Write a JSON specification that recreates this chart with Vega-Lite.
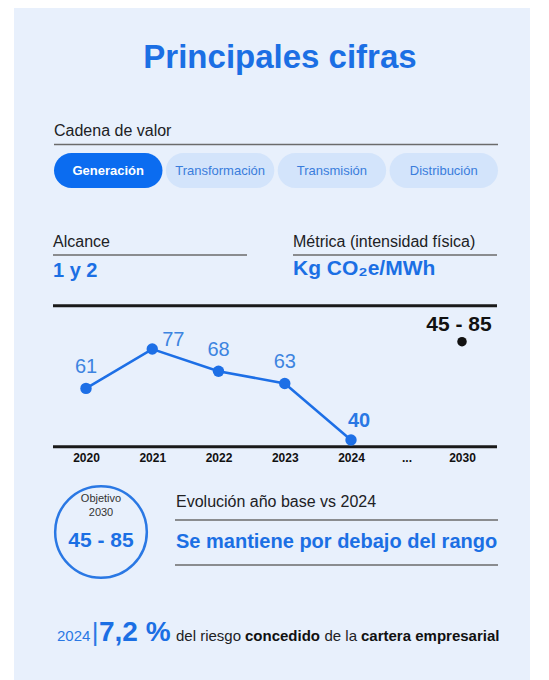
{
  "$schema": "https://vega.github.io/schema/vega-lite/v6.json",
  "width": 549,
  "height": 680,
  "autosize": {"type": "fit", "contains": "padding"},
  "padding": {"left": 14, "top": 8, "right": 19, "bottom": 0},
  "background": "#ffffff",
  "config": {
    "view": {"stroke": null, "fill": "#e8f0fc"},
    "font": "Liberation Sans",
    "text": {"font": "Liberation Sans"}
  },
  "datasets": {
    "serie": [
      {"anio": 2020, "valor": 61, "etiqueta": "61", "tipo": "Real"},
      {"anio": 2021, "valor": 77, "etiqueta": "77", "tipo": "Real"},
      {"anio": 2022, "valor": 68, "etiqueta": "68", "tipo": "Real"},
      {"anio": 2023, "valor": 63, "etiqueta": "63", "tipo": "Real"},
      {"anio": 2024, "valor": 40, "etiqueta": "40", "tipo": "Real"},
      {"anio": 2030, "valor": 80, "etiqueta": "45 - 85", "tipo": "Objetivo"}
    ],
    "cadena": [
      {"etapa": "Generación", "estado": "Activa"},
      {"etapa": "Transformación", "estado": "Inactiva"},
      {"etapa": "Transmisión", "estado": "Inactiva"},
      {"etapa": "Distribución", "estado": "Inactiva"}
    ],
    "textos": [
      {"clave": "titulo", "texto": "Principales cifras"},
      {"clave": "cadena", "texto": "Cadena de valor"},
      {"clave": "alcance", "texto": "Alcance"},
      {"clave": "alcance_valor", "texto": "1 y 2"},
      {"clave": "metrica", "texto": "Métrica (intensidad física)"},
      {"clave": "metrica_valor", "texto": "Kg CO₂e/MWh"},
      {"clave": "objetivo", "texto": "Objetivo"},
      {"clave": "objetivo_anio", "texto": "2030"},
      {"clave": "objetivo_rango", "texto": "45 - 85"},
      {"clave": "evolucion", "texto": "Evolución año base vs 2024"},
      {"clave": "evolucion_valor", "texto": "Se mantiene por debajo del rango"},
      {"clave": "pie_anio", "texto": "2024"},
      {"clave": "pie_barra", "texto": "|"},
      {"clave": "pie_pct", "texto": "7,2 %"},
      {"clave": "pie_1", "texto": "del riesgo"},
      {"clave": "pie_2", "texto": "concedido"},
      {"clave": "pie_3", "texto": "de la"},
      {"clave": "pie_4", "texto": "cartera empresarial"}
    ]
  },
  "layer": [
    {
      "data": {"name": "textos"},
      "transform": [{"filter": "datum.clave == 'titulo'"}],
      "mark": {"type": "text", "x": 266, "y": 60, "align": "center", "baseline": "alphabetic", "fontSize": 33, "fontWeight": "bold", "color": "#1b6fe4"},
      "encoding": {"text": {"field": "texto"}}
    },
    {
      "data": {"name": "textos"},
      "transform": [{"filter": "datum.clave == 'cadena'"}],
      "mark": {"type": "text", "x": 40, "y": 128, "align": "left", "baseline": "alphabetic", "fontSize": 16, "color": "#202124"},
      "encoding": {"text": {"field": "texto"}}
    },
    {
      "data": {"values": [{"elemento": "separador"}]},
      "mark": {"type": "rule", "stroke": "#6b6b6b", "strokeWidth": 1.5},
      "encoding": {"x": {"value": 40}, "x2": {"value": 484}, "y": {"value": 136.5}}
    },
    {
      "data": {"name": "cadena"},
      "encoding": {
        "x": {
          "field": "etapa", "type": "nominal", "sort": null,
          "scale": {"domain": ["Generación", "Transformación", "Transmisión", "Distribución"], "range": [40, 484], "paddingInner": 0.03, "paddingOuter": 0},
          "axis": null
        }
      },
      "layer": [
        {
          "mark": {"type": "bar", "y": 145, "y2": 180, "cornerRadius": 17.5},
          "encoding": {
            "color": {"field": "estado", "type": "nominal", "scale": {"domain": ["Activa", "Inactiva"], "range": ["#0b6cf0", "#d3e4fb"]}, "legend": null}
          }
        },
        {
          "transform": [{"filter": "datum.estado == 'Activa'"}],
          "mark": {"type": "text", "y": 162.5, "baseline": "middle", "align": "center", "fontSize": 13, "fontWeight": "bold", "color": "#ffffff"},
          "encoding": {"text": {"field": "etapa"}}
        },
        {
          "transform": [{"filter": "datum.estado == 'Inactiva'"}],
          "mark": {"type": "text", "y": 162.5, "baseline": "middle", "align": "center", "fontSize": 13, "color": "#3a7ddc"},
          "encoding": {"text": {"field": "etapa"}}
        }
      ]
    },
    {
      "data": {"name": "textos"},
      "transform": [{"filter": "datum.clave == 'alcance'"}],
      "mark": {"type": "text", "x": 39, "y": 238.5, "align": "left", "baseline": "alphabetic", "fontSize": 16, "color": "#202124"},
      "encoding": {"text": {"field": "texto"}}
    },
    {
      "data": {"values": [{"elemento": "separador"}]},
      "mark": {"type": "rule", "stroke": "#6b6b6b", "strokeWidth": 1.5},
      "encoding": {"x": {"value": 39}, "x2": {"value": 233}, "y": {"value": 247}}
    },
    {
      "data": {"name": "textos"},
      "transform": [{"filter": "datum.clave == 'alcance_valor'"}],
      "mark": {"type": "text", "x": 39, "y": 268.5, "align": "left", "baseline": "alphabetic", "fontSize": 20, "fontWeight": "bold", "color": "#1b6fe4"},
      "encoding": {"text": {"field": "texto"}}
    },
    {
      "data": {"name": "textos"},
      "transform": [{"filter": "datum.clave == 'metrica'"}],
      "mark": {"type": "text", "x": 279, "y": 238.5, "align": "left", "baseline": "alphabetic", "fontSize": 16, "color": "#202124"},
      "encoding": {"text": {"field": "texto"}}
    },
    {
      "data": {"values": [{"elemento": "separador"}]},
      "mark": {"type": "rule", "stroke": "#6b6b6b", "strokeWidth": 1.5},
      "encoding": {"x": {"value": 279}, "x2": {"value": 483}, "y": {"value": 247}}
    },
    {
      "data": {"name": "textos"},
      "transform": [{"filter": "datum.clave == 'metrica_valor'"}],
      "mark": {"type": "text", "x": 279, "y": 267, "align": "left", "baseline": "alphabetic", "fontSize": 21, "fontWeight": "bold", "color": "#1b6fe4"},
      "encoding": {"text": {"field": "texto"}}
    },
    {
      "data": {"values": [{"elemento": "separador"}]},
      "mark": {"type": "rule", "stroke": "#1a1a1a", "strokeWidth": 3},
      "encoding": {"x": {"value": 39}, "x2": {"value": 483}, "y": {"value": 297.7}}
    },
    {
      "data": {"values": [{"elemento": "separador"}]},
      "mark": {"type": "rule", "stroke": "#1a1a1a", "strokeWidth": 3},
      "encoding": {"x": {"value": 39}, "x2": {"value": 483}, "y": {"value": 438.7}}
    },
    {
      "data": {"name": "serie"},
      "layer": [
        {
          "transform": [{"filter": "datum.tipo == 'Real'"}],
          "mark": {"type": "line", "color": "#1d6fe6", "strokeWidth": 2.5},
          "encoding": {
            "x": {
              "field": "anio", "type": "quantitative",
              "scale": {"domain": [2020, 2024, 2030], "range": [72, 337, 448], "zero": false, "nice": false},
              "axis": {
                "orient": "bottom", "offset": -233.3,
                "values": [2020, 2021, 2022, 2023, 2024, 2027, 2030],
                "labelExpr": "datum.value == 2027 ? '...' : format(datum.value, 'd')",
                "domain": false, "ticks": false, "tickSize": 0, "grid": false,
                "labelPadding": 6, "labelFontSize": 12, "labelFontWeight": "bold",
                "labelColor": "#111111", "labelBaseline": "top", "labelFlush": false,
                "labelOverlap": false, "title": null
              }
            },
            "y": {
              "field": "valor", "type": "quantitative",
              "scale": {"domain": [40, 80], "range": [432.0, 333.7], "zero": false, "nice": false},
              "axis": null
            }
          }
        },
        {
          "mark": {"type": "point", "filled": true, "opacity": 1},
          "encoding": {
            "x": {"field": "anio", "type": "quantitative"},
            "y": {"field": "valor", "type": "quantitative"},
            "color": {"field": "tipo", "type": "nominal", "scale": {"domain": ["Real", "Objetivo"], "range": ["#1d6fe6", "#111111"]}, "legend": null},
            "size": {"field": "tipo", "type": "nominal", "scale": {"domain": ["Real", "Objetivo"], "range": [130, 90]}, "legend": null}
          }
        },
        {
          "transform": [{"filter": "datum.anio == 2020 || datum.anio == 2022 || datum.anio == 2023"}],
          "mark": {"type": "text", "align": "center", "baseline": "alphabetic", "dy": -15, "fontSize": 20, "color": "#3d84e0"},
          "encoding": {
            "x": {"field": "anio", "type": "quantitative"},
            "y": {"field": "valor", "type": "quantitative"},
            "text": {"field": "etiqueta"}
          }
        },
        {
          "transform": [{"filter": "datum.anio == 2021"}],
          "mark": {"type": "text", "align": "left", "baseline": "alphabetic", "dx": 10, "dy": -3, "fontSize": 20, "color": "#3d84e0"},
          "encoding": {
            "x": {"field": "anio", "type": "quantitative"},
            "y": {"field": "valor", "type": "quantitative"},
            "text": {"field": "etiqueta"}
          }
        },
        {
          "transform": [{"filter": "datum.anio == 2024"}],
          "mark": {"type": "text", "align": "center", "baseline": "alphabetic", "dx": 8, "dy": -13, "fontSize": 20, "fontWeight": "bold", "color": "#2a78e4"},
          "encoding": {
            "x": {"field": "anio", "type": "quantitative"},
            "y": {"field": "valor", "type": "quantitative"},
            "text": {"field": "etiqueta"}
          }
        },
        {
          "transform": [{"filter": "datum.tipo == 'Objetivo'"}],
          "mark": {"type": "text", "align": "center", "baseline": "alphabetic", "dx": -3, "dy": -11, "fontSize": 21, "fontWeight": "bold", "color": "#111111"},
          "encoding": {
            "x": {"field": "anio", "type": "quantitative"},
            "y": {"field": "valor", "type": "quantitative"},
            "text": {"field": "etiqueta"}
          }
        }
      ]
    },
    {
      "data": {"name": "textos"},
      "transform": [{"filter": "datum.clave == 'objetivo_rango'"}],
      "mark": {"type": "point", "x": 87, "y": 524, "size": 8400, "filled": false, "stroke": "#2a78e4", "strokeWidth": 2.5, "opacity": 1},
      "encoding": {}
    },
    {
      "data": {"name": "textos"},
      "transform": [{"filter": "datum.clave == 'objetivo'"}],
      "mark": {"type": "text", "x": 87, "y": 494, "align": "center", "baseline": "alphabetic", "fontSize": 11, "color": "#333333"},
      "encoding": {"text": {"field": "texto"}}
    },
    {
      "data": {"name": "textos"},
      "transform": [{"filter": "datum.clave == 'objetivo_anio'"}],
      "mark": {"type": "text", "x": 87, "y": 508, "align": "center", "baseline": "alphabetic", "fontSize": 11, "color": "#333333"},
      "encoding": {"text": {"field": "texto"}}
    },
    {
      "data": {"name": "textos"},
      "transform": [{"filter": "datum.clave == 'objetivo_rango'"}],
      "mark": {"type": "text", "x": 87, "y": 538.5, "align": "center", "baseline": "alphabetic", "fontSize": 21, "fontWeight": "bold", "color": "#1b6fe4"},
      "encoding": {"text": {"field": "texto"}}
    },
    {
      "data": {"name": "textos"},
      "transform": [{"filter": "datum.clave == 'evolucion'"}],
      "mark": {"type": "text", "x": 162, "y": 498.5, "align": "left", "baseline": "alphabetic", "fontSize": 16, "color": "#202124"},
      "encoding": {"text": {"field": "texto"}}
    },
    {
      "data": {"values": [{"elemento": "separador"}]},
      "mark": {"type": "rule", "stroke": "#6b6b6b", "strokeWidth": 1.5},
      "encoding": {"x": {"value": 161}, "x2": {"value": 484}, "y": {"value": 512}}
    },
    {
      "data": {"name": "textos"},
      "transform": [{"filter": "datum.clave == 'evolucion_valor'"}],
      "mark": {"type": "text", "x": 162, "y": 540, "align": "left", "baseline": "alphabetic", "fontSize": 20, "fontWeight": "bold", "color": "#1b6fe4"},
      "encoding": {"text": {"field": "texto"}}
    },
    {
      "data": {"values": [{"elemento": "separador"}]},
      "mark": {"type": "rule", "stroke": "#6b6b6b", "strokeWidth": 1.5},
      "encoding": {"x": {"value": 161}, "x2": {"value": 484}, "y": {"value": 557}}
    },
    {
      "data": {"name": "textos"},
      "transform": [{"filter": "datum.clave == 'pie_anio'"}],
      "mark": {"type": "text", "x": 43, "y": 633, "align": "left", "baseline": "alphabetic", "fontSize": 15, "color": "#2a78e4"},
      "encoding": {"text": {"field": "texto"}}
    },
    {
      "data": {"name": "textos"},
      "transform": [{"filter": "datum.clave == 'pie_barra'"}],
      "mark": {"type": "text", "x": 81, "y": 633, "align": "center", "baseline": "alphabetic", "fontSize": 26, "color": "#2a78e4"},
      "encoding": {"text": {"field": "texto"}}
    },
    {
      "data": {"name": "textos"},
      "transform": [{"filter": "datum.clave == 'pie_pct'"}],
      "mark": {"type": "text", "x": 85, "y": 633, "align": "left", "baseline": "alphabetic", "fontSize": 28, "fontWeight": "bold", "color": "#1b6fe4"},
      "encoding": {"text": {"field": "texto"}}
    },
    {
      "data": {"name": "textos"},
      "transform": [{"filter": "datum.clave == 'pie_1'"}],
      "mark": {"type": "text", "x": 162, "y": 633, "align": "left", "baseline": "alphabetic", "fontSize": 15, "color": "#202124"},
      "encoding": {"text": {"field": "texto"}}
    },
    {
      "data": {"name": "textos"},
      "transform": [{"filter": "datum.clave == 'pie_2'"}],
      "mark": {"type": "text", "x": 231, "y": 633, "align": "left", "baseline": "alphabetic", "fontSize": 15, "fontWeight": "bold", "color": "#111111"},
      "encoding": {"text": {"field": "texto"}}
    },
    {
      "data": {"name": "textos"},
      "transform": [{"filter": "datum.clave == 'pie_3'"}],
      "mark": {"type": "text", "x": 310.5, "y": 633, "align": "left", "baseline": "alphabetic", "fontSize": 15, "color": "#202124"},
      "encoding": {"text": {"field": "texto"}}
    },
    {
      "data": {"name": "textos"},
      "transform": [{"filter": "datum.clave == 'pie_4'"}],
      "mark": {"type": "text", "x": 347, "y": 633, "align": "left", "baseline": "alphabetic", "fontSize": 15, "fontWeight": "bold", "color": "#111111"},
      "encoding": {"text": {"field": "texto"}}
    }
  ],
  "resolve": {"scale": {"x": "independent", "y": "independent", "color": "independent", "size": "independent"}, "axis": {"x": "independent", "y": "independent"}}
}
